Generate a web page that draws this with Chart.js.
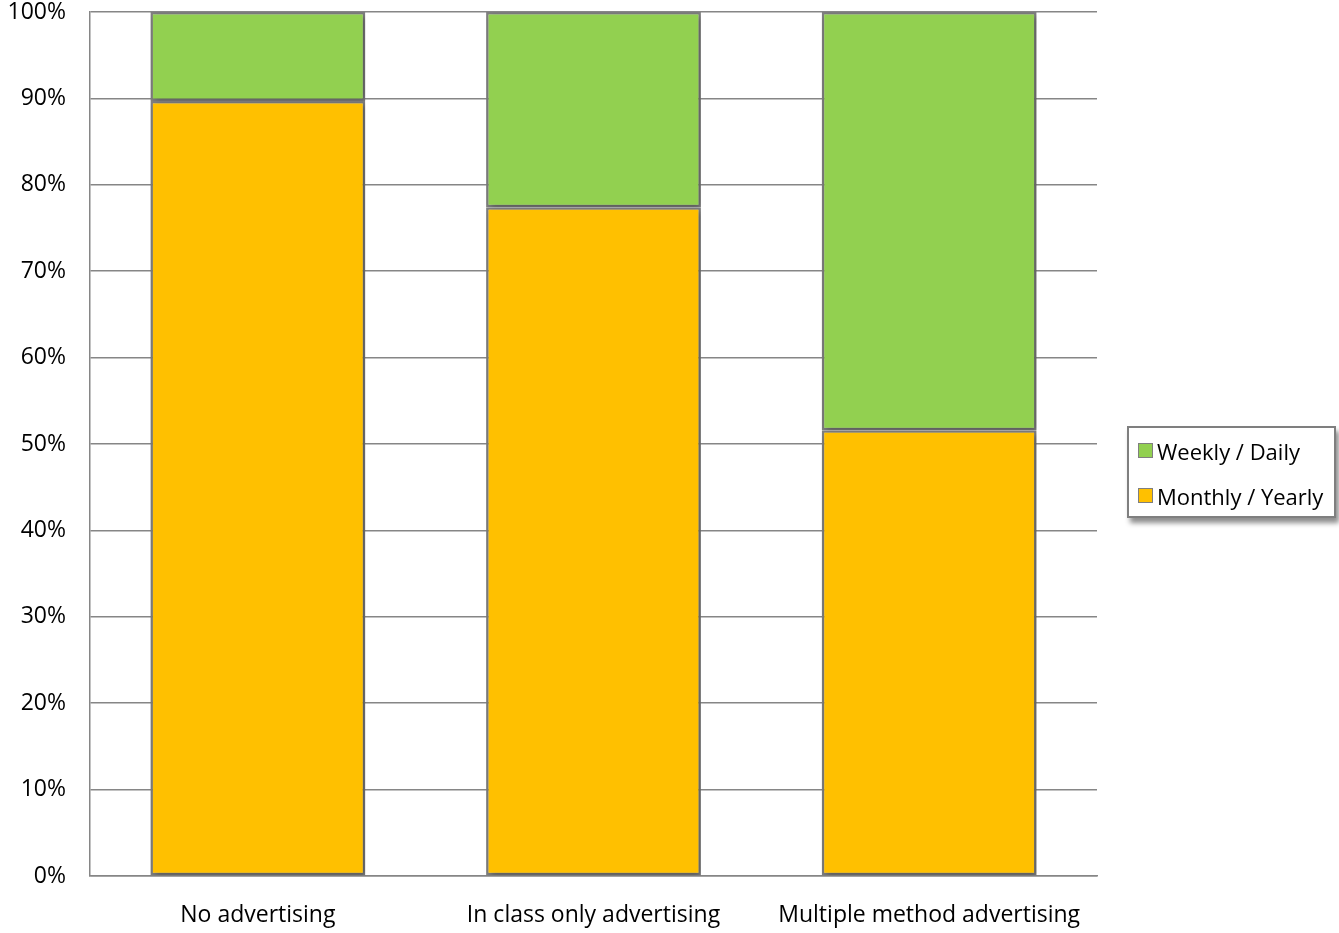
<!DOCTYPE html>
<html>
<head>
<meta charset="utf-8">
<script src="https://cdn.jsdelivr.net/npm/chart.js@4/dist/chart.umd.min.js"></script>
<style>
  html, body { margin: 0; padding: 0; background: #fff; }
  #wrap { position: relative; width: 1339px; height: 933px; }
  #legend {
    position: absolute; left: 1127px; top: 426px; width: 209px; height: 92px;
    border: 2px solid #7f7f7f; background: #fff; box-sizing: border-box;
    box-shadow: 3px 5px 5px rgba(0,0,0,0.45);
    font-family: 'Open Sans', sans-serif; font-size: 22px; color: #000;
    padding: 0 0 0 9px;
  }
  #legend .item { display: flex; align-items: center; height: 45px; white-space: nowrap; }
  #legend .sw { width: 13px; height: 13px; border: 1px solid #7f7f7f; margin-right: 4px; }
</style>
</head>
<body>
<div id="wrap">
  <canvas id="chart" width="1339" height="933"></canvas>
  <div id="legend"></div>
</div>
<script>
// data
const categories = ['No advertising', 'In class only advertising', 'Multiple method advertising'];
const monthlyYearly = [89.7, 77.4, 51.6];
const weeklyDaily = [10.3, 22.6, 48.4];
const yTicks = [0, 10, 20, 30, 40, 50, 60, 70, 80, 90, 100];

const COLORS = {
  orange: '#FFC000',
  green: '#92D050',
  border: '#7f7f7f',
  grid: '#868686',
};

const datasets = [
  { label: 'Monthly / Yearly', data: monthlyYearly, backgroundColor: COLORS.orange },
  { label: 'Weekly / Daily', data: weeklyDaily, backgroundColor: COLORS.green },
];

// soft shadow on bars, like the office chart
const barShadow = {
  id: 'barShadow',
  beforeDatasetsDraw(chart) {
    const ctx = chart.ctx;
    ctx.save();
    ctx.shadowColor = 'rgba(0,0,0,0.35)';
    ctx.shadowBlur = 6;
    ctx.shadowOffsetX = 2;
    ctx.shadowOffsetY = 2;
  },
  afterDatasetsDraw(chart) {
    chart.ctx.restore();
  },
};

Chart.defaults.font.family = "'Open Sans', sans-serif";
Chart.defaults.font.size = 22;
Chart.defaults.color = '#000';

new Chart(document.getElementById('chart'), {
  type: 'bar',
  data: {
    labels: categories,
    datasets: datasets.map(ds => ({
      ...ds,
      borderColor: COLORS.border,
      borderWidth: 2.5,
      borderSkipped: false,
      categoryPercentage: 1,
      barPercentage: 0.64,
    })),
  },
  options: {
    responsive: false,
    animation: false,
    layout: { padding: { top: 12, right: 242, left: 0, bottom: 0 } },
    plugins: {
      legend: { display: false },
      tooltip: { enabled: false },
    },
    scales: {
      x: {
        stacked: true,
        grid: { display: false, drawTicks: false },
        border: { color: COLORS.grid, width: 1.5 },
        ticks: { padding: 26, maxRotation: 0, font: { size: 23 } },
        afterFit(axis) { axis.height = 57; axis.paddingLeft = 0; axis.paddingRight = 0; },
      },
      y: {
        stacked: true,
        min: 0,
        max: 100,
        afterBuildTicks(axis) { axis.ticks = yTicks.map(v => ({ value: v })); },
        grid: { color: COLORS.grid, lineWidth: 1.5, drawTicks: false },
        border: { color: COLORS.grid, width: 1.5 },
        ticks: { padding: 24, font: { size: 23 }, callback: v => v + '%' },
        afterFit(axis) { axis.width = 90; axis.paddingTop = 0; axis.paddingBottom = 0; },
      },
    },
  },
  plugins: [barShadow],
});

// legend, top entry is the top of the stack
const legend = document.getElementById('legend');
datasets.slice().reverse().forEach(ds => {
  const item = document.createElement('div');
  item.className = 'item';
  item.innerHTML = '<span class="sw" style="background:' + ds.backgroundColor + '"></span>' + ds.label;
  legend.appendChild(item);
});
</script>
</body>
</html>
